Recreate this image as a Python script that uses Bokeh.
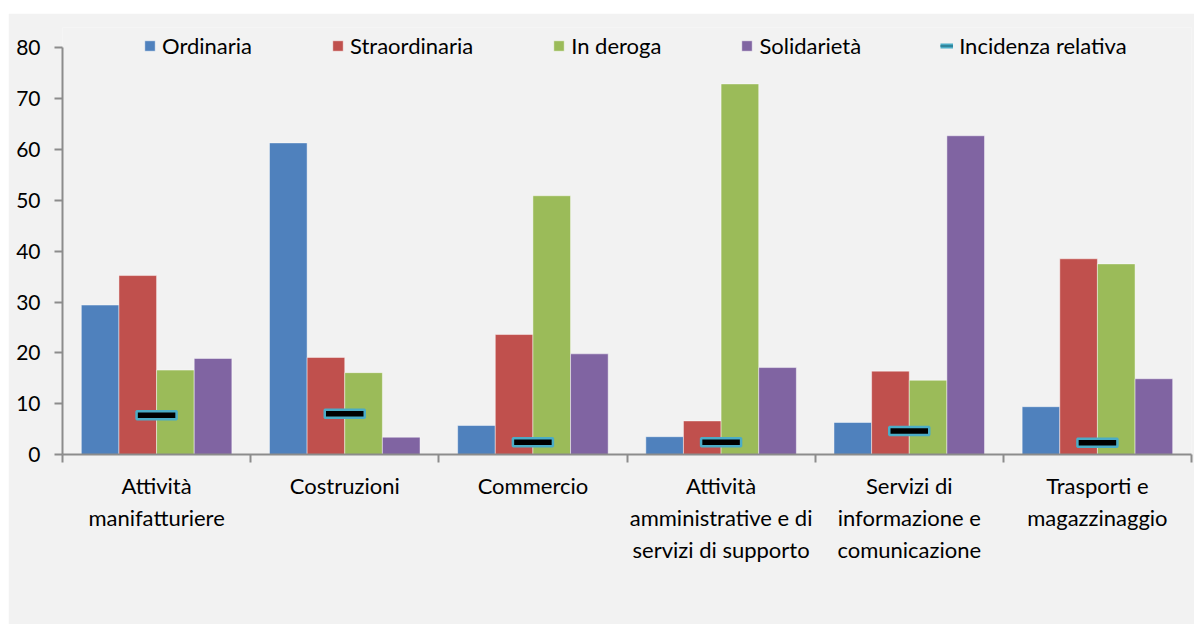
import numpy as np
from bokeh.plotting import figure
from bokeh.models import (Range1d, FixedTicker, Legend, LegendItem, Spacer)
from bokeh.layouts import column, row
from bokeh.embed import file_html
from bokeh.resources import INLINE

categories = ["Attività\nmanifatturiere", "Costruzioni", "Commercio",
              "Attività\namministrative e di\nservizi di supporto",
              "Servizi di\ninformazione e\ncomunicazione",
              "Trasporti e\nmagazzinaggio"]
ordinaria = [29.4, 61.3, 5.7, 3.5, 6.3, 9.4]
straordinaria = [35.2, 19.1, 23.6, 6.6, 16.4, 38.5]
in_deroga = [16.6, 16.1, 50.9, 72.9, 14.6, 37.5]
solidarieta = [18.9, 3.4, 19.8, 17.1, 62.7, 14.9]
incidenza = [7.7, 8.0, 2.4, 2.4, 4.6, 2.3]
y_ticks = [0, 10, 20, 30, 40, 50, 60, 70, 80]

FONT = "Lato"
BG = "#f2f2f2"
AX = "#8c8c8c"

n = len(categories)
centers = np.arange(n) + 0.5

p = figure(width=1186, height=611, output_backend="svg", toolbar_location=None,
           x_range=Range1d(0, n), y_range=Range1d(0, 84),
           min_border_left=54, min_border_right=3, min_border_top=14,
           min_border_bottom=170)
p.background_fill_color = BG
p.border_fill_color = BG
p.outline_line_color = None
p.grid.visible = False

series = [("Ordinaria", ordinaria, "#4f81bd", -0.3),
          ("Straordinaria", straordinaria, "#c0504d", -0.1),
          ("In deroga", in_deroga, "#9bbb59", 0.1),
          ("Solidarietà", solidarieta, "#8064a2", 0.3)]
items = []
for name, vals, col, off in series:
    r = p.vbar(x=centers + off, top=vals, width=0.2, fill_color=col,
               line_color="#ffffff", line_alpha=0.45, line_width=1)
    items.append(LegendItem(label=name, renderers=[r]))

p.rect(x=centers, y=incidenza, width=40, height=8, width_units="screen",
       height_units="screen", fill_color="#000000", line_color="#4bacc6",
       line_width=2.5)
# legend proxies for the incidence marker (not drawn in the plot)
l1 = p.line(x=centers, y=incidenza, line_color="#4bacc6", line_width=5,
            visible=False)
l2 = p.line(x=centers, y=incidenza, line_color="#31859c", line_width=2,
            visible=False)
items.append(LegendItem(label="Incidenza relativa", renderers=[l1, l2]))

legend = Legend(items=items, orientation="horizontal", location=(81, 395),
                padding=0, margin=0, spacing=79, glyph_width=13,
                glyph_height=13, label_standoff=6, label_height=20,
                label_text_font=FONT, label_text_font_size="22px",
                label_text_color="#000000", border_line_color=None,
                background_fill_alpha=0)
p.add_layout(legend)

# y axis
ya = p.yaxis[0]
ya.ticker = FixedTicker(ticks=y_ticks, minor_ticks=[])
ya.bounds = (0, 80)
ya.axis_line_color = AX
ya.axis_line_width = 2
ya.major_tick_line_color = AX
ya.major_tick_line_width = 2
ya.major_tick_out = 8
ya.major_tick_in = 0
ya.minor_tick_line_color = None
ya.major_label_text_font = FONT
ya.major_label_text_font_size = "21px"
ya.major_label_text_color = "#000000"
ya.major_label_standoff = 14

# x axis
xa = p.xaxis[0]
xa.ticker = FixedTicker(ticks=list(centers), minor_ticks=list(range(n + 1)))
xa.major_label_overrides = {float(c): lab for c, lab in zip(centers, categories)}
xa.axis_line_color = AX
xa.axis_line_width = 2
xa.major_tick_line_color = None
xa.minor_tick_line_color = AX
xa.minor_tick_line_width = 2
xa.minor_tick_out = 8
xa.minor_tick_in = 0
xa.major_label_text_font = FONT
xa.major_label_text_font_size = "22px"
xa.major_label_text_color = "#000000"
xa.major_label_standoff = 9

layout = column(Spacer(height=13), row(Spacer(width=8), p))
open("out.html", "w").write(file_html(layout, INLINE))
